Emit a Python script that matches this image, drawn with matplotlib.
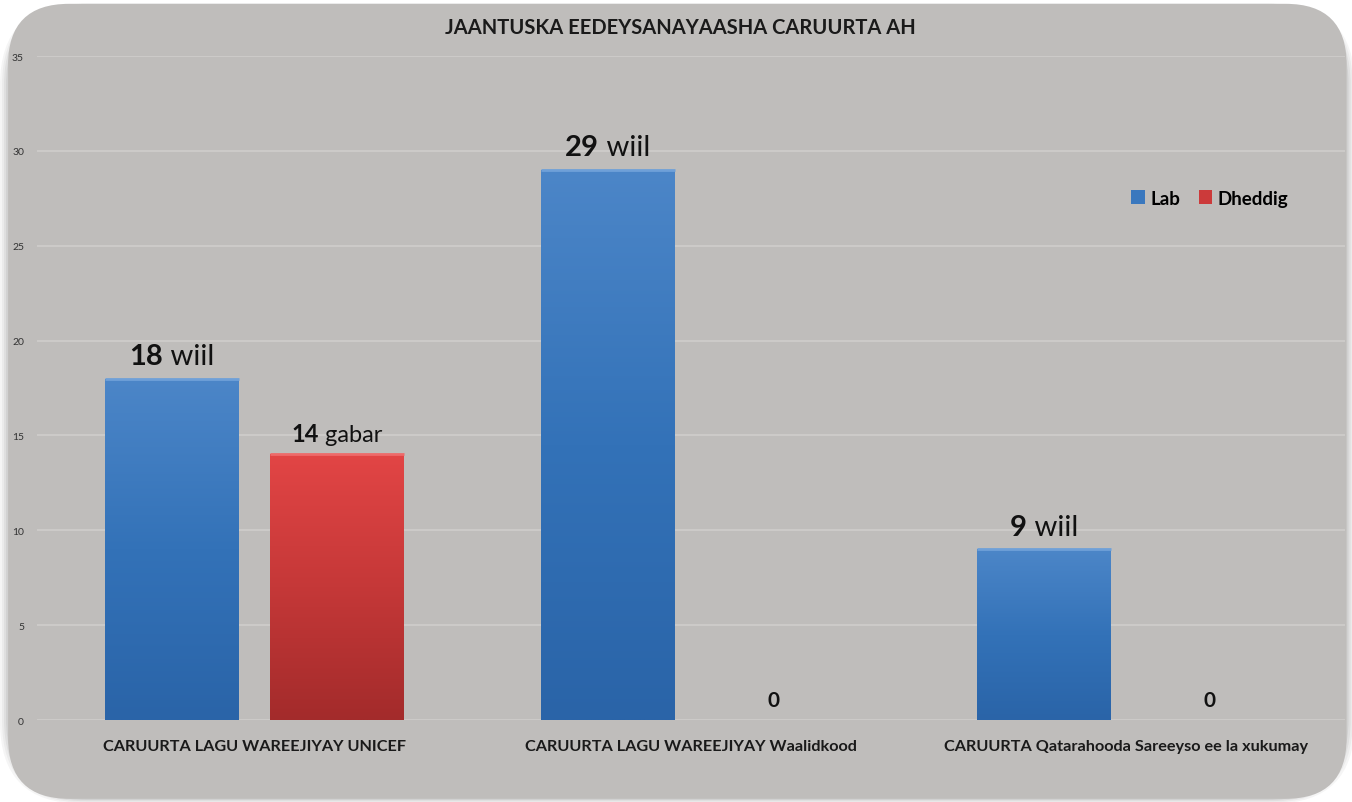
import numpy as np
import matplotlib
matplotlib.use("Agg")
import matplotlib.pyplot as plt
from matplotlib.patches import FancyBboxPatch
from matplotlib.colors import LinearSegmentedColormap
from matplotlib.offsetbox import TextArea, HPacker, AnnotationBbox

plt.rcParams['font.family'] = ['Lato', 'DejaVu Sans']

# data
categories = ["CARUURTA LAGU WAREEJIYAY UNICEF",
              "CARUURTA LAGU WAREEJIYAY Waalidkood",
              "CARUURTA Qatarahooda Sareeyso ee la xukumay"]
lab = [18, 29, 9]
dheddig = [14, 0, 0]
series_names = ["Lab", "Dheddig"]
lab_word = "wiil"
dheddig_word = "gabar"
title = "JAANTUSKA EEDEYSANAYAASHA CARUURTA AH"

fig = plt.figure(figsize=(13.52, 8.03), dpi=100)
fig.patch.set_facecolor("white")

# rounded grey panel with a soft shadow
for i, a in enumerate([0.04, 0.04, 0.05, 0.06]):
    d = (4 - i) * 0.003
    fig.patches.append(FancyBboxPatch((0.006 - d / 2, 0.004 - d / 2), 0.99 + d, 0.99 + d / 2,
                                      boxstyle="round,pad=0,rounding_size=0.06",
                                      transform=fig.transFigure, facecolor="black",
                                      edgecolor="none", alpha=a, zorder=-3,
                                      mutation_aspect=13.52 / 8.03))
fig.patches.append(FancyBboxPatch((0.006, 0.004), 0.99, 0.99,
                                  boxstyle="round,pad=0,rounding_size=0.045",
                                  transform=fig.transFigure, facecolor="#bfbdbb",
                                  edgecolor="none", zorder=-2,
                                  mutation_aspect=13.52 / 8.03))

ax = fig.add_axes([0.027, 0.1021, 0.9675, 0.8269])
ax.set_facecolor("none")

x = np.arange(len(categories))
w = 0.307
off = 0.19
bars_lab = ax.bar(x - off, lab, w, color="#3a78be", label=series_names[0], zorder=2)
bars_dhe = ax.bar(x + off, dheddig, w, color="#cc3a3a", label=series_names[1], zorder=2)

cm_blue = LinearSegmentedColormap.from_list("b", ["#2a64a8", "#3372b8", "#4c86c8"])
cm_red = LinearSegmentedColormap.from_list("r", ["#a32b2b", "#c53838", "#e24545"])
grad = np.linspace(0, 1, 256).reshape(-1, 1)
for bars, cm, top in [(bars_lab, cm_blue, "#6fa0d8"), (bars_dhe, cm_red, "#ee6a6a")]:
    for b in bars:
        h = b.get_height()
        if h <= 0:
            continue
        x0 = b.get_x()
        im = ax.imshow(grad, extent=[x0, x0 + b.get_width(), 0, h], origin="lower",
                       aspect="auto", cmap=cm, zorder=3)
        im.set_clip_path(b)
        ax.plot([x0, x0 + b.get_width()], [h, h], color=top,
                lw=2, zorder=4, solid_capstyle="butt")

ax.set_xlim(-0.5, 2.5)
ax.set_ylim(0, 35)

# value labels: bold number + word
def value_label(xc, val, word, size):
    parts = [TextArea(str(val), textprops=dict(fontsize=size, fontweight="bold", color="#111111"))]
    if val > 0:
        parts.append(TextArea(" " + word, textprops=dict(fontsize=size, color="#111111")))
    box = HPacker(children=parts, align="baseline", pad=0, sep=0)
    ab = AnnotationBbox(box, (xc, val), xybox=(0, 7), xycoords="data",
                        boxcoords="offset points", box_alignment=(0.5, 0),
                        frameon=False, zorder=5)
    ax.add_artist(ab)

for b, v in zip(bars_lab, lab):
    value_label(b.get_x() + b.get_width() / 2, v, lab_word, 21)
for b, v in zip(bars_dhe, dheddig):
    value_label(b.get_x() + b.get_width() / 2, v, dheddig_word, 17 if v > 0 else 15)

ax.set_yticks(np.arange(0, 36, 5))
ax.yaxis.grid(True, color="#cfcdcb", lw=1.2, zorder=0)
ax.set_axisbelow(True)
for s in ax.spines.values():
    s.set_visible(False)
ax.tick_params(axis="y", length=0, pad=9, labelsize=7.5, labelcolor="#333333")
ax.tick_params(axis="x", length=0, pad=14)
ax.set_xticks(x)
ax.set_xticklabels(categories, fontsize=11.7, fontweight="bold", color="#1a1a1a")

leg = ax.legend(loc="center", bbox_to_anchor=(0.897, 0.786), ncol=2, frameon=False,
                handlelength=0.7, handleheight=0.7, handletextpad=0.3, columnspacing=1.0,
                prop=dict(size=13.5, weight="bold"))

fig.text(0.503, 0.965, title, ha="center", va="center", fontsize=14.5,
         fontweight="bold", color="#1a1a1a")

fig.savefig("out.png", dpi=100)
